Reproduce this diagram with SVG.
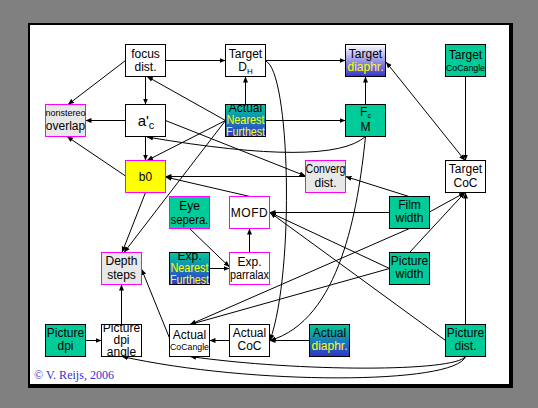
<svg xmlns="http://www.w3.org/2000/svg" width="538" height="408" viewBox="0 0 538 408">
<style>
.n{stroke:#000;stroke-width:1}
.m{stroke:#FF00FF;stroke-width:1}
.teal{fill:#00CC99}
.grey{fill:#E8E8E8}
.white{fill:#FFFFFF}
.yel{fill:#FFFF00}
text{font-family:"Liberation Sans",Arial,sans-serif;font-size:12px;fill:#000;text-anchor:middle}
.y{fill:#FFFF00}
.sm{font-size:9px}
#connectors path{fill:none;stroke:#000;stroke-width:1;marker-end:url(#arr)}
</style>
<defs>
<marker id="arr" viewBox="0 0 6 6" refX="6" refY="3" markerWidth="6" markerHeight="6" markerUnits="userSpaceOnUse" orient="auto-start-reverse">
<path d="M0,0.5 L6,3 L0,5.5 z" fill="#000"/>
</marker>
<linearGradient id="gTB" x1="0" y1="0" x2="0" y2="1">
<stop offset="0" stop-color="#00CC99"/>
<stop offset="1" stop-color="#3333CC"/>
</linearGradient>
<linearGradient id="gWB" x1="0" y1="0" x2="0" y2="1">
<stop offset="0" stop-color="#FFFFFF"/>
<stop offset="1" stop-color="#3333CC"/>
</linearGradient>
<clipPath id="cANF"><rect x="225" y="104" width="41" height="33"/></clipPath>
<clipPath id="cENF"><rect x="169" y="252" width="41" height="33"/></clipPath>
<clipPath id="cDPI"><rect x="101" y="324" width="41" height="33"/></clipPath>
</defs>
<rect x="0" y="0" width="538" height="408" fill="#808080"/>
<rect x="28" y="23" width="485" height="365" fill="#000"/>
<rect x="30" y="25" width="479" height="359" fill="#FFFFFF"/>

<g id="connectors">
<path d="M166,60.5 H225.5"/>
<path d="M266,60.5 H345.5"/>
<path d="M125.5,60.5 L68,104.5"/>
<path d="M145.5,76.5 V104.5"/>
<path d="M125.5,120.5 H85.5"/>
<path d="M145.5,136.5 V160.5"/>
<path d="M125.5,176 L67,136.5"/>
<path d="M225.5,120.5 L147,76.5"/>
<path d="M225.5,120.5 L147,160.5"/>
<path d="M225.5,120.5 L124,252.5"/>
<path d="M145.5,192.5 L122,252.5"/>
<path d="M245.5,104.5 V76.5"/>
<path d="M265.5,120.5 H345.5"/>
<path d="M365.5,104.5 V76.5"/>
<path d="M465.5,76.5 V160.5"/>
<path d="M465,160.5 L386,62" style="marker-start:url(#arr)"/>
<path d="M365.5,136.5 Q330,168 147,137"/>
<path d="M265.5,61 C290,70 295,270 270,340.5"/>
<path d="M365.5,136.5 C358,210 340,320 270,340.5"/>
<path d="M165.5,120.5 L305.5,176"/>
<path d="M305.5,176.5 H165.5"/>
<path d="M250,196.5 L165.5,177"/>
<path d="M409,196.5 L345.5,176.5"/>
<path d="M389.5,212.5 H269.5"/>
<path d="M389.5,268.5 L270,212.5"/>
<path d="M445.5,340.5 L270,212.5"/>
<path d="M249.5,252.5 V228.5"/>
<path d="M189.5,228.5 L229.5,267"/>
<path d="M209.5,268.5 H229.5"/>
<path d="M85.5,340.5 H101.5"/>
<path d="M121.5,324.5 V284.5"/>
<path d="M169.5,338 L141.5,269"/>
<path d="M229.5,340.5 H209.5"/>
<path d="M309.5,340.5 H269.5"/>
<path d="M409.5,228.5 L190,324.5"/>
<path d="M389.5,268.5 L190,324.5"/>
<path d="M409.5,252.5 L465,192.5"/>
<path d="M429.5,212 L465,192.5"/>
<path d="M465.5,324.5 V192.5"/>
<path d="M465.5,356.5 C455,372 300,372 190,356.5"/>
<path d="M465.5,356.5 C455,385 250,385 122,356.5"/>
</g>

<g id="focus"><rect class="n white" x="125.5" y="44.5" width="40" height="32"/><text x="145.5" y="58">focus</text><text x="145.5" y="71">dist.</text></g>
<g id="targetDH"><rect class="n white" x="225.5" y="44.5" width="40" height="32"/><text x="245.5" y="57.5">Target</text><text x="245.5" y="71">D<tspan font-size="8" dy="3">H</tspan></text></g>
<g id="targetDiaphr"><rect class="n" fill="url(#gWB)" x="345.5" y="44.5" width="40" height="32"/><text x="365.5" y="57.5">Target</text><text class="y" x="365.5" y="71">diaphr.</text></g>
<g id="targetCoCangle"><rect class="n teal" x="445.5" y="44.5" width="40" height="32"/><text x="465.5" y="59">Target</text><text class="sm" x="465.5" y="71" textLength="39" lengthAdjust="spacingAndGlyphs">CoCangle</text></g>
<g id="nonstereo"><rect class="m grey" x="45.5" y="104.5" width="40" height="32"/><text class="sm" x="65.5" y="116" textLength="40" lengthAdjust="spacingAndGlyphs">nonstereo</text><text x="65.5" y="130">overlap</text></g>
<g id="ac"><rect class="n white" x="125.5" y="104.5" width="40" height="32"/><text x="146" y="126"><tspan font-size="15">a'</tspan><tspan font-size="11" dy="3">c</tspan></text></g>
<g id="actualNF"><rect class="n" fill="url(#gTB)" x="225.5" y="104.5" width="40" height="32"/><g clip-path="url(#cANF)"><text x="245.5" y="112">Actual</text><text class="y" x="245.5" y="124" textLength="38" lengthAdjust="spacingAndGlyphs">Nearest</text><text class="y" x="245.5" y="136" textLength="39" lengthAdjust="spacingAndGlyphs">Furthest</text></g></g>
<g id="FcM"><rect class="n teal" x="345.5" y="104.5" width="40" height="32"/><text x="365.5" y="115.5">F<tspan font-size="7" dy="2">c</tspan></text><text x="365.5" y="131">M</text></g>
<g id="b0"><rect class="m yel" x="125.5" y="160.5" width="40" height="32"/><text x="145.5" y="180.5">b0</text></g>
<g id="converg"><rect class="m grey" x="305.5" y="160.5" width="40" height="32"/><text x="325.5" y="173" textLength="40" lengthAdjust="spacingAndGlyphs">Converg</text><text x="325.5" y="187">dist.</text></g>
<g id="targetCoC"><rect class="n white" x="445.5" y="160.5" width="40" height="32"/><text x="465.5" y="173">Target</text><text x="465.5" y="187">CoC</text></g>
<g id="eye"><rect class="m teal" x="169.5" y="196.5" width="40" height="32"/><text x="189.5" y="210">Eye</text><text x="189.5" y="223.5" textLength="38" lengthAdjust="spacingAndGlyphs">sepera.</text></g>
<g id="MOFD"><rect class="m white" x="229.5" y="196.5" width="40" height="32"/><text x="249.5" y="216.5" letter-spacing="0.5">MOFD</text></g>
<g id="film"><rect class="n teal" x="389.5" y="196.5" width="40" height="32"/><text x="409.5" y="208.5">Film</text><text x="409.5" y="222">width</text></g>
<g id="depth"><rect class="m grey" x="101.5" y="252.5" width="40" height="32"/><text x="121.5" y="265">Depth</text><text x="121.5" y="278.5">steps</text></g>
<g id="expNF"><rect class="n" fill="url(#gTB)" x="169.5" y="252.5" width="40" height="32"/><g clip-path="url(#cENF)"><text x="189.5" y="259.5">Exp.</text><text class="y" x="189.5" y="272" textLength="38" lengthAdjust="spacingAndGlyphs">Nearest</text><text class="y" x="189.5" y="284" textLength="39" lengthAdjust="spacingAndGlyphs">Furthest</text></g></g>
<g id="parralax"><rect class="m white" x="229.5" y="252.5" width="40" height="32"/><text x="249.5" y="266">Exp.</text><text x="249.5" y="278.5" textLength="39" lengthAdjust="spacingAndGlyphs">parralax</text></g>
<g id="pictureWidth"><rect class="n teal" x="389.5" y="252.5" width="40" height="32"/><text x="409.5" y="264.5">Picture</text><text x="409.5" y="277.5">width</text></g>
<g id="pictureDpi"><rect class="n teal" x="45.5" y="324.5" width="40" height="32"/><text x="65.5" y="337">Picture</text><text x="65.5" y="349.5">dpi</text></g>
<g id="dpiAngle"><rect class="n white" x="101.5" y="324.5" width="40" height="32"/><g clip-path="url(#cDPI)"><text x="121.5" y="332" font-size="10.5">Picture</text><text x="121.5" y="344" font-size="10.5">dpi</text><text x="121.5" y="356" font-size="10.5">angle</text></g></g>
<g id="actualCoCangle"><rect class="n white" x="169.5" y="324.5" width="40" height="32"/><text x="189.5" y="338.5">Actual</text><text class="sm" x="189.5" y="350" textLength="39" lengthAdjust="spacingAndGlyphs">CoCangle</text></g>
<g id="actualCoC"><rect class="n white" x="229.5" y="324.5" width="40" height="32"/><text x="249.5" y="337">Actual</text><text x="249.5" y="349.5">CoC</text></g>
<g id="actualDiaphr"><rect class="n" fill="url(#gTB)" x="309.5" y="324.5" width="40" height="32"/><text x="329.5" y="337">Actual</text><text class="y" x="329.5" y="350">diaphr.</text></g>
<g id="pictureDist"><rect class="n teal" x="445.5" y="324.5" width="40" height="32"/><text x="465.5" y="337">Picture</text><text x="465.5" y="350">dist.</text></g>

<text x="34" y="378.5" style="font-family:'Liberation Serif','Times New Roman',serif;font-size:12.5px;fill:#3333CC;text-anchor:start" textLength="80" lengthAdjust="spacingAndGlyphs">© V. Reijs, 2006</text>
</svg>
